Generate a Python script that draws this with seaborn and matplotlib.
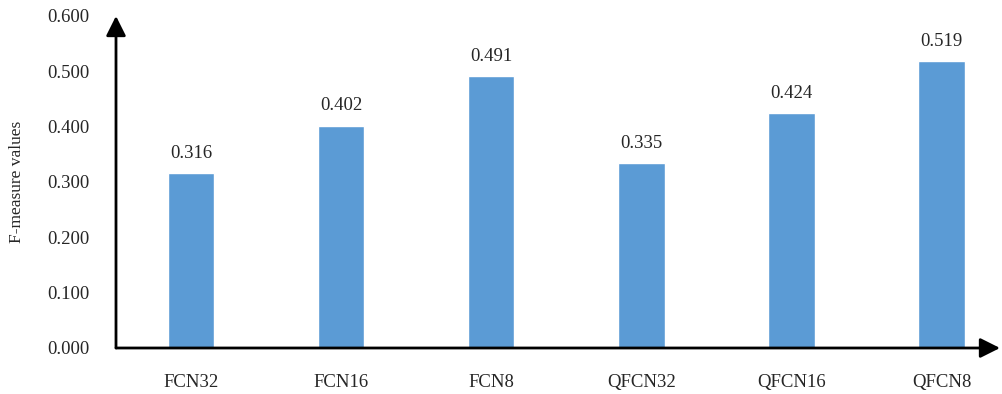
import matplotlib
matplotlib.use("Agg")
import matplotlib.pyplot as plt
import seaborn as sns
import pandas as pd

models = ["FCN32", "FCN16", "FCN8", "QFCN32", "QFCN16", "QFCN8"]
f_measure = [0.316, 0.402, 0.491, 0.335, 0.424, 0.519]
y_ticks = [0.0, 0.1, 0.2, 0.3, 0.4, 0.5, 0.6]

sns.set_theme(style="white")
plt.rcParams["font.family"] = ["Liberation Serif", "DejaVu Serif"]

df = pd.DataFrame({"model": models, "value": f_measure})

fig = plt.figure(figsize=(10.02, 3.94), dpi=100)
ax = fig.add_axes([116 / 1002, 1 - 348 / 394, (1000 - 116) / 1002, (348 - 16) / 394])

sns.barplot(data=df, x="model", y="value", color="#5B9BD5", width=0.31,
            saturation=1, ax=ax)

fs = 13.5
ax.set_xlim(-0.5, 5.39)
ax.set_ylim(0, 0.6)
ax.set_yticks(y_ticks)
ax.set_yticklabels([f"{v:.3f}" for v in y_ticks], fontsize=fs)
ax.tick_params(axis="x", labelsize=fs, pad=19)
ax.tick_params(axis="y", pad=19)
ax.tick_params(length=0)
ax.set_xlabel("")
ax.set_ylabel("F-measure values", fontsize=fs - 1, labelpad=16)

for s in ["top", "right", "left", "bottom"]:
    ax.spines[s].set_visible(False)

# axes drawn as arrows
arrow_style = dict(arrowstyle="-|>,head_length=0.6,head_width=0.3",
                   mutation_scale=20, color="black", lw=2, shrinkA=0, shrinkB=0)
ax.annotate("", xy=(1.0, 0), xytext=(0, 0), xycoords="axes fraction",
            arrowprops=arrow_style, annotation_clip=False)
ax.annotate("", xy=(0, 1.0), xytext=(0, 0), xycoords="axes fraction",
            arrowprops=arrow_style, annotation_clip=False)

for i, v in enumerate(f_measure):
    ax.annotate(f"{v:.3f}", xy=(i, v), xytext=(0, 8), textcoords="offset points",
                ha="center", va="bottom", fontsize=fs)

fig.savefig("out.png", dpi=100)
